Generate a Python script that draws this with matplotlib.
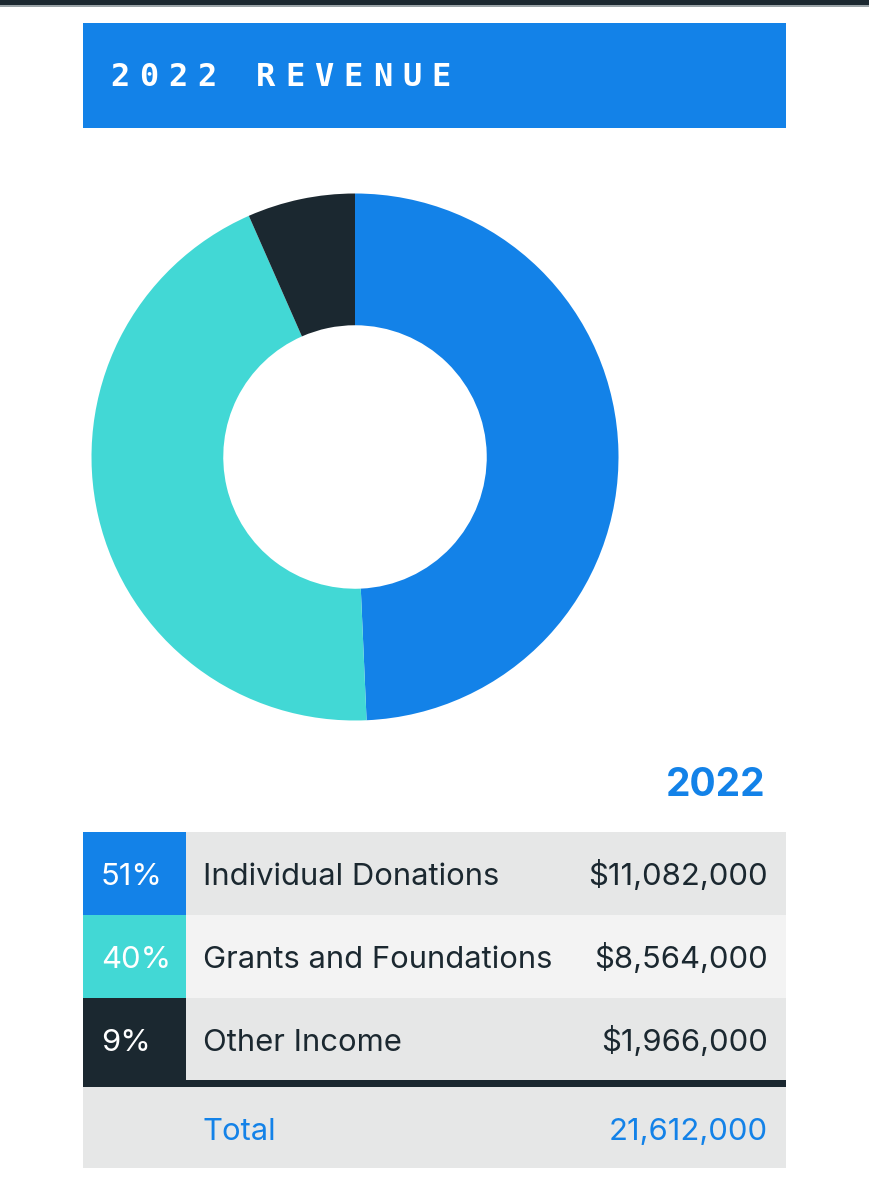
import matplotlib.pyplot as plt
from matplotlib.patches import Rectangle

# data
title = "2022 REVENUE"
year_label = "2022"
categories = ["Individual Donations", "Grants and Foundations", "Other Income"]
amounts = [11082000, 8564000, 1966000]
percent_labels = ["51%", "40%", "9%"]
donut_shares = [49.3, 44.1, 6.6]   # as drawn in the ring
total_label = "Total"
total_amount = 21612000

BLUE = "#1382e8"
TEAL = "#42d8d5"
DARK = "#1b2830"
slice_colors = [BLUE, TEAL, DARK]
row_colors = ["#e6e7e7", "#f3f3f3", "#e6e7e7"]

FONT = "Inter"
FS = 22.3
W, H = 869, 1200

fig = plt.figure(figsize=(W / 100, H / 100), dpi=100)
ax = fig.add_axes([0, 0, 1, 1])
ax.set_xlim(0, W)
ax.set_ylim(H, 0)
ax.axis("off")

# dark strip on top
ax.add_patch(Rectangle((0, 0), W, 5, color=DARK, lw=0))
ax.add_patch(Rectangle((0, 5), W, 1.5, color="#9aa3a7", lw=0))

# header
ax.add_patch(Rectangle((83, 23), 703, 105, color=BLUE, lw=0))
for i, ch in enumerate(title):
    ax.text(110 + i * 29.2, 86, ch, color="white", fontsize=23,
            family="DejaVu Sans Mono", weight="bold", ha="left", va="baseline")

# donut
cx, cy, r = 355, 457, 263.5
pax = fig.add_axes([(cx - r) / W, (H - cy - r) / H, 2 * r / W, 2 * r / H])
pax.pie(donut_shares, colors=slice_colors, startangle=90, counterclock=False,
        radius=1, wedgeprops=dict(width=0.5, linewidth=0))
pax.set_xlim(-1, 1)
pax.set_ylim(-1, 1)
pax.set_aspect("equal")
pax.axis("off")

# year label
ax.text(765, 796, year_label, color=BLUE, fontsize=28, family=FONT,
        weight="bold", ha="right", va="baseline")

# table
top, row_h = 832, 83
for i, (cat, amt, pct) in enumerate(zip(categories, amounts, percent_labels)):
    y = top + i * row_h
    h = row_h if i < len(categories) - 1 else row_h - 1
    ax.add_patch(Rectangle((83, y), 103, row_h + (6 if i == 2 else 0),
                           color=slice_colors[i], lw=0))
    ax.add_patch(Rectangle((186, y), 600, h, color=row_colors[i], lw=0))
    ax.text(101, y + 53, pct, color="white", fontsize=FS, family=FONT, va="baseline")
    ax.text(203, y + 53, cat, color=DARK, fontsize=FS, family=FONT, va="baseline")
    ax.text(768, y + 53, f"${amt:,}", color=DARK, fontsize=FS, family=FONT,
            ha="right", va="baseline")

# separator and total row
line_y = top + 3 * row_h - 1
ax.add_patch(Rectangle((83, line_y), 703, 7, color=DARK, lw=0))
ax.add_patch(Rectangle((83, line_y + 7), 703, 81, color="#e6e7e7", lw=0))
ax.text(203, line_y + 7 + 53, total_label, color=BLUE, fontsize=FS, family=FONT,
        va="baseline")
ax.text(768, line_y + 7 + 53, f"{total_amount:,}", color=BLUE, fontsize=FS,
        family=FONT, ha="right", va="baseline")

fig.savefig("out.png", dpi=100)
